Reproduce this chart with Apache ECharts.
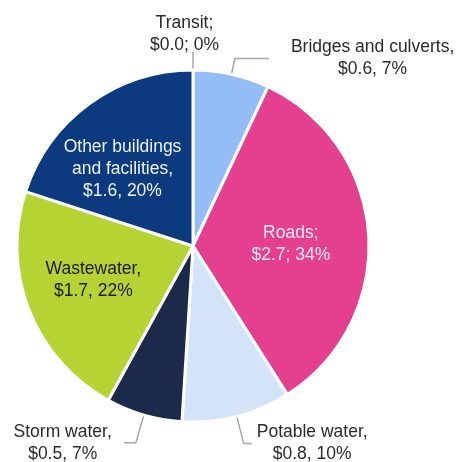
<!DOCTYPE html>
<html>
<head>
<meta charset="utf-8">
<script src="https://cdn.jsdelivr.net/npm/echarts@6/dist/echarts.min.js"></script>
<style>
html, body { margin: 0; padding: 0; background: #fff; }
#main { width: 456px; height: 462px; }
</style>
</head>
<body>
<div id="main"></div>
<script>
// categories, clockwise from 12 o'clock
var names = ['Transit', 'Bridges and culverts', 'Roads', 'Potable water', 'Storm water', 'Wastewater', 'Other buildings\nand facilities'];
var dollars = ['$0.0', '$0.6', '$2.7', '$0.8', '$0.5', '$1.7', '$1.6'];
var shares = [0, 7, 34, 10, 7, 22, 20];
var seps = [';', ',', ';', ',', ',', ',', ','];

var colors = ['#ffffff', '#95bdf5', '#e4408f', '#d3e4fa', '#1b2a4a', '#b6d334', '#0b3a7e'];

var myChart = echarts.init(document.getElementById('main'));

// label setup per slice (inside / outside)
var labelCfg = {
    'Transit': { position: 'outside', len: 18, len2: 0, dist: 5, move: [31, -18] },
    'Bridges and culverts': { position: 'outside', len: 16, len2: 34, dist: 22 },
    'Roads': { position: 'inside', color: '#fbe9f2', move: [7, 4] },
    'Potable water': { position: 'outside', len: 28, len2: 8, dist: 5 },
    'Storm water': { position: 'outside', len: 29, len2: 12, dist: 12 },
    'Wastewater': { position: 'inside', color: '#1a1a1a', move: [-15, 1] },
    'Other buildings\nand facilities': { position: 'inside', color: '#eef2fa', move: [-17, -3] }
};

function labelText(i) {
    var lines = (names[i] + seps[i]).split('\n');
    lines.push(dollars[i] + seps[i] + ' ' + shares[i] + '%');
    return lines.map(function (l) { return '{c|' + l + '}'; }).join('\n');
}

var pieData = [];
for (let i = 0; i < names.length; i++) {
    var cfg = labelCfg[names[i]];
    var item = {
        name: names[i],
        value: shares[i],
        itemStyle: { color: colors[i] },
        label: {
            position: cfg.position,
            formatter: labelText(i),
            rich: { c: { align: 'center', color: cfg.color || '#2a2a2a', fontSize: 17.5, lineHeight: 22, fontFamily: 'Liberation Sans' } }
        }
    };
    if (cfg.position === 'outside') {
        item.label.distanceToLabelLine = cfg.dist;
        item.labelLine = { show: true, length: cfg.len, length2: cfg.len2 };
    }
    pieData.push(item);
}

option = {
    backgroundColor: '#fff',
    animation: false,
    series: [
        {
            type: 'pie',
            center: [193, 246],
            radius: [0, 176],
            startAngle: 90,
            clockwise: true,
            avoidLabelOverlap: false,
            itemStyle: { borderColor: '#fff', borderWidth: 3 },
            label: { show: true, fontFamily: 'Liberation Sans', fontSize: 17.5 },
            labelLine: { lineStyle: { color: '#a6a6a6', width: 1.5 } },
            emphasis: { disabled: true },
            labelLayout: function (params) {
                var m = labelCfg[names[params.dataIndex]].move;
                if (m) {
                    return { dx: m[0], dy: m[1] };
                }
                return {};
            },
            data: pieData
        }
    ]
};
myChart.setOption(option);
</script>
</body>
</html>
